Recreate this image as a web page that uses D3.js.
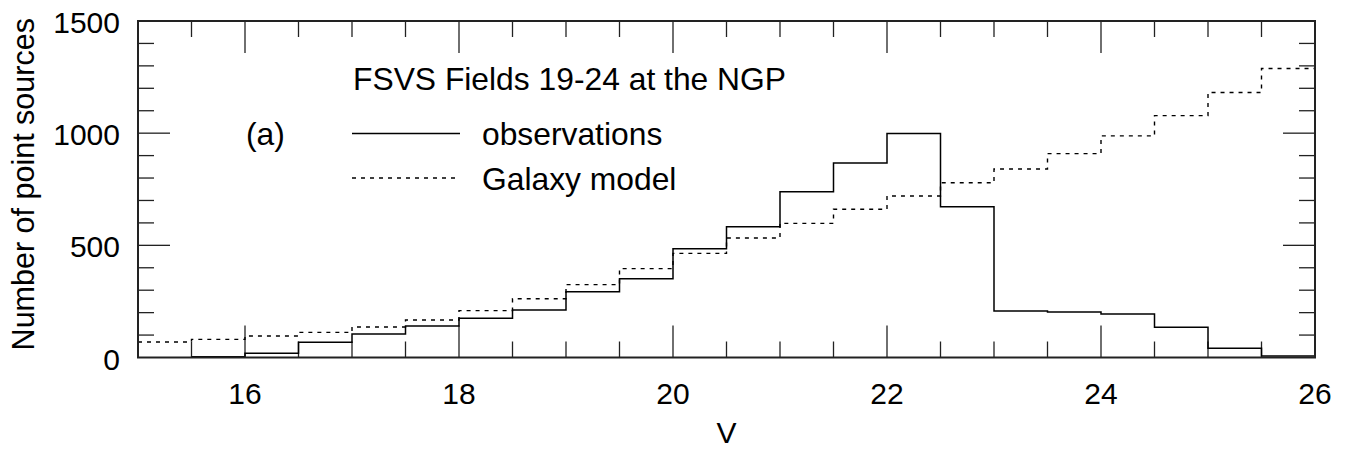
<!DOCTYPE html>
<html>
<head>
<meta charset="utf-8">
<script src="https://cdn.jsdelivr.net/npm/d3@7"></script>
<style>
  html, body { margin: 0; padding: 0; background: #fff; }
  svg { display: block; }
  text { font-family: "Liberation Sans", Arial, Helvetica, sans-serif; fill: #000; }
</style>
</head>
<body>
<svg id="chart" width="1355" height="452"></svg>
<script>
// Bin lower edges in V magnitude (bins are 0.5 mag wide)
const binStarts = [15, 15.5, 16, 16.5, 17, 17.5, 18, 18.5, 19, 19.5, 20,
                   20.5, 21, 21.5, 22, 22.5, 23, 23.5, 24, 24.5, 25, 25.5];
const binWidth = 0.5;

// Observed counts of point sources (no data in the first bin)
const observations = [null, 3, 19, 68, 105, 140, 175, 212, 293, 351, 485,
                      583, 739, 867, 998, 672, 207, 203, 194, 135, 41, 7];

// Galaxy model predicted counts
const galaxyModel = [69, 81, 96, 112, 136, 167, 209, 262, 325, 396, 464,
                     533, 598, 661, 720, 779, 840, 909, 988, 1078, 1181, 1288];

const xTicks = [16, 18, 20, 22, 24, 26];
const yTicks = [0, 500, 1000, 1500];

const svg = d3.select("#chart");
const plotLeft = 138, plotRight = 1315, plotTop = 21, plotBottom = 357.5;

const x = d3.scaleLinear().domain([15, 26]).range([plotLeft, plotRight]);
const y = d3.scaleLinear().domain([0, 1500]).range([plotBottom, plotTop]);

const majorLen = 32, minorLen = 16;
const tickColor = "#222";

// Tick marks on all four sides, pointing inward
const xMinor = d3.range(15.5, 26, 0.5);
const yMinor = d3.range(100, 1500, 100);
const ticks = svg.append("g").attr("stroke", tickColor).attr("stroke-width", 1.3);
xMinor.forEach(v => {
  const len = (v % 2 === 0) ? majorLen : minorLen;
  ticks.append("line").attr("x1", x(v)).attr("x2", x(v)).attr("y1", plotBottom).attr("y2", plotBottom - len);
  ticks.append("line").attr("x1", x(v)).attr("x2", x(v)).attr("y1", plotTop).attr("y2", plotTop + len);
});
yMinor.forEach(v => {
  const len = (v % 500 === 0) ? majorLen : minorLen;
  ticks.append("line").attr("y1", y(v)).attr("y2", y(v)).attr("x1", plotLeft).attr("x2", plotLeft + len);
  ticks.append("line").attr("y1", y(v)).attr("y2", y(v)).attr("x1", plotRight).attr("x2", plotRight - len);
});

// Histogram step lines
function stepPoints(values) {
  const pts = [];
  values.forEach((v, i) => { if (v !== null) pts.push([binStarts[i], v]); });
  const last = values.length - 1;
  pts.push([binStarts[last] + binWidth, values[last]]);
  return pts;
}
const line = d3.line().x(d => x(d[0])).y(d => y(d[1])).curve(d3.curveStepAfter);

svg.append("path")
  .attr("d", line(stepPoints(galaxyModel)))
  .attr("fill", "none").attr("stroke", "#000").attr("stroke-width", 1.4)
  .attr("stroke-dasharray", "4,5");

svg.append("path")
  .attr("d", line(stepPoints(observations)))
  .attr("fill", "none").attr("stroke", "#000").attr("stroke-width", 1.5);

// Frame
svg.append("rect")
  .attr("x", plotLeft).attr("y", plotTop)
  .attr("width", plotRight - plotLeft).attr("height", plotBottom - plotTop)
  .attr("fill", "none").attr("stroke", "#222").attr("stroke-width", 2);

// Tick labels
const fs = 30;
svg.append("g").selectAll("text").data(xTicks).join("text")
  .attr("x", d => x(d)).attr("y", 404)
  .attr("text-anchor", "middle").attr("font-size", fs)
  .text(d => d);
svg.append("g").selectAll("text").data(yTicks).join("text")
  .attr("x", 120).attr("y", d => y(d) + 12)
  .attr("text-anchor", "end").attr("font-size", fs)
  .text(d => d);

// Axis titles
svg.append("text")
  .attr("x", (plotLeft + plotRight) / 2).attr("y", 443)
  .attr("text-anchor", "middle").attr("font-size", fs)
  .text("V");
svg.append("text")
  .attr("transform", `translate(34, ${(plotTop + plotBottom) / 2 - 5}) rotate(-90)`)
  .attr("text-anchor", "middle").attr("font-size", 30.5)
  .text("Number of point sources");

// Annotation and legend
const noteSize = 31.8;
svg.append("text").attr("x", 353).attr("y", 90).attr("font-size", noteSize)
  .text("FSVS Fields 19-24 at the NGP");
svg.append("text").attr("x", 246).attr("y", 145).attr("font-size", noteSize)
  .text("(a)");

const legend = [
  { label: "observations", dash: null, yPos: 133.5 },
  { label: "Galaxy model", dash: "4,5", yPos: 178 }
];
legend.forEach(d => {
  svg.append("line")
    .attr("x1", 352).attr("x2", 460).attr("y1", d.yPos).attr("y2", d.yPos)
    .attr("stroke", "#000").attr("stroke-width", d.dash ? 1.4 : 1.5)
    .attr("stroke-dasharray", d.dash);
  svg.append("text").attr("x", 482).attr("y", d.yPos + 11.5).attr("font-size", noteSize)
    .text(d.label);
});
</script>
</body>
</html>
